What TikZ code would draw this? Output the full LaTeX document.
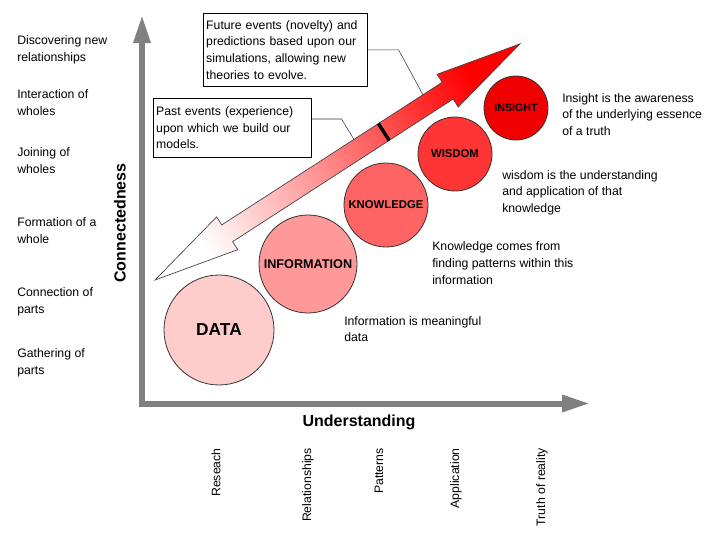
\documentclass[tikz,border=0pt]{standalone}
\usepackage{fontspec}
\setmainfont{Liberation Sans}
\usepackage{tikz}
\usetikzlibrary{arrows.meta,positioning,calc}

\definecolor{axisgray}{RGB}{128,128,128}
\definecolor{datafill}{RGB}{255,204,204}
\definecolor{infofill}{RGB}{255,153,153}
\definecolor{knowfill}{RGB}{255,100,100}
\definecolor{wisfill}{RGB}{255,52,52}
\definecolor{insfill}{RGB}{240,0,0}

\begin{document}
\begin{tikzpicture}[x=0.75pt, y=-0.75pt,
  every node/.style={font=\fontsize{9.2}{12.5}\selectfont, inner sep=0pt},
  lvl/.style={anchor=west, align=left},
  stage/.style={circle, draw=black!80, line width=0.6pt, minimum size=#1, font=\fontsize{8.5}{10}\selectfont\bfseries},
  note/.style={anchor=west, align=left},
  callout/.style={draw, fill=white, anchor=north west, align=left, inner xsep=2.2pt, inner ysep=2.5pt},
  axis/.style={axisgray, line width=4.5pt, -{Triangle[length=21pt, width=12pt]}},
  tick/.style={rotate=90, anchor=east}]
\useasboundingbox (0,0) rectangle (726,557);

% Axes (grey arrows)
\coordinate (orig) at (142,407);
\coordinate (ytip) at (142,15);
\coordinate (xorig) at (139,403.5);
\coordinate (xtip) at (590,403.5);
\draw[axis] (orig) -- (ytip);
\draw[axis] (xorig) -- (xtip);

% Axis titles
\node[font=\fontsize{12}{14}\selectfont\bfseries, rotate=90] (conn) at (120,223) {Connectedness};
\node[font=\fontsize{12}{14}\selectfont\bfseries] (under) at (359,422) {Understanding};

% Levels of connectedness
\node[lvl] (discover) at (17,50) {Discovering new\\relationships};
\node[lvl] (interact) at (17,102.5) {Interaction of\\wholes};
\node[lvl] (joining) at (17,160.5) {Joining of\\wholes};
\node[lvl] (formation) at (17,230.5) {Formation of a\\whole};
\node[lvl] (connection) at (17,301.5) {Connection of\\parts};
\node[lvl] (gathering) at (17,362.5) {Gathering of\\parts};

% Levels of understanding
\node[tick] (research) at (216,448) {Reseach};
\node[tick] (relations) at (308,448) {Relationships};
\node[tick] (patterns) at (379,448) {Patterns};
\node[tick] (applic) at (456,448) {Application};
\node[tick] (truth) at (542,448) {Truth of reality};

% Double arrow past -> future (white to red)
\begin{scope}[shift={(155,280)}, rotate=32.9]
\shade[draw=black!75, line width=0.5pt, top color=white, bottom color=red, shading angle=122.9]
  (0,0) -- (86,-19.5) -- (86,-10) -- (348.6,-10) -- (348.6,-19.5) -- (434.6,0)
  -- (348.6,19.5) -- (348.6,10) -- (86,10) -- (86,19.5) -- cycle;
\draw[line width=2.6pt] (272.5,-10) -- (272.5,10);
\coordinate (futpt) at (325.6,-10);
\coordinate (pastpt) at (243.4,-10);
\end{scope}

% DIKW circles
\node[stage=82.5pt, fill=datafill, font=\fontsize{13}{15}\selectfont\bfseries] (data) at (219,330) {DATA};
\node[stage=73.5pt, fill=infofill, font=\fontsize{9.5}{11}\selectfont\bfseries] (info) at (308,264) {INFORMATION};
\node[stage=63pt, fill=knowfill] (know) at (386,205) {KNOWLEDGE};
\node[stage=55.5pt, fill=wisfill] (wisdom) at (455,154) {WISDOM};
\node[stage=48pt, fill=insfill, font=\fontsize{8}{10}\selectfont\bfseries] (insight) at (516,108) {INSIGHT};

% Descriptions
\node[note] (insnote) at (562,114.5) {Insight is the awareness\\of the underlying essence\\of a truth};
\node[note] (wisnote) at (502,192.5) {wisdom is the understanding\\and application of that\\knowledge};
\node[note] (knownote) at (432,263) {Knowledge comes from\\finding patterns within this\\information};
\node[note] (infonote) at (344,329) {Information is meaningful\\data};

% Callouts
\node[callout, text width=118.6pt, minimum height=54.75pt] (future) at (203,13) {Future events (novelty) and\\predictions based upon our\\simulations, allowing new\\theories to evolve.};
\node[callout, text width=114.1pt, minimum height=44.25pt] (past) at (153,98) {Past events (experience)\\upon which we build our\\models.};
\draw[black!80] (future.east) -- ++(31,0) -- (futpt);
\draw[black!80] (past.north east) ++(0,21) -- ++(30,0) -- (pastpt);

\end{tikzpicture}
\end{document}
